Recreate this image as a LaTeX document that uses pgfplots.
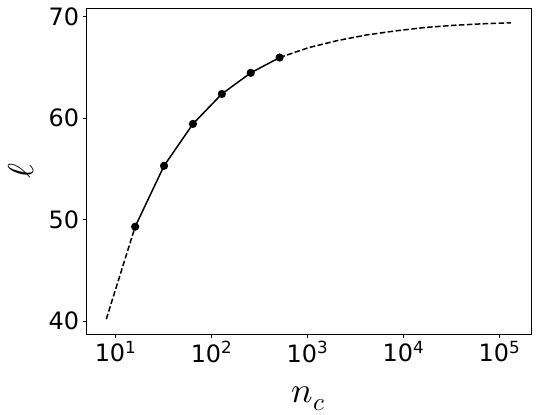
\documentclass[border=0pt]{standalone}
\usepackage{fontspec}
\usepackage{unicode-math}
\setmainfont{DejaVu Sans}
\setmathfont{Latin Modern Math}
\usepackage{pgfplots}
\pgfplotsset{compat=1.18}
\begin{document}
\begin{tikzpicture}[x=1bp,y=1bp]
\begin{axis}[
  name=ax,
  at={(0,0)}, anchor=south west,
  scale only axis, width=445bp, height=326bp,
  xmode=log, log basis x=10,
  xmin=4.92, xmax=2.13e5,
  ymin=38.74, ymax=70.86,
  xtick={10,100,1000,10000,100000},
  xticklabels={10\textsuperscript{1},10\textsuperscript{2},10\textsuperscript{3},10\textsuperscript{4},10\textsuperscript{5}},
  ytick={40,50,60,70},
  /pgf/number format/assume math mode=true,
  tick label style={font=\fontsize{24}{28}\selectfont, black},
  tick align=outside, tick pos=left,
  major tick length=3.5bp, minor tick length=2bp,
  every tick/.style={black, line width=0.8bp},
  minor tick style={line width=0.6bp},
  axis line style={line width=0.8bp},
  xlabel={$n_c$}, ylabel={$\ell$},
  xlabel style={font=\fontsize{36}{40}\selectfont, at={(axis description cs:0.5,0)}, anchor=base, yshift=-68bp},
  ylabel style={font=\fontsize{36}{40}\selectfont, at={(axis description cs:-0.1191,0.5)}, anchor=base},
  clip=false,
]
\addplot[black, line width=1.5bp, dash pattern=on 5.55bp off 2.4bp] coordinates {
  (8,40.2) (16,49.31)
};
\addplot[black, line width=1.5bp, dash pattern=on 5.55bp off 2.4bp] coordinates {
  (512,65.98) (1024,66.95) (2048,67.65) (4096,68.2) (8192,68.6) (16384,68.93) (32768,69.15) (65536,69.3) (131072,69.4)
};
\addplot[black, line width=1.5bp, mark=*, mark size=3.3bp, mark options={solid}] coordinates {
  (16,49.31) (32,55.31) (64,59.44) (128,62.39) (256,64.47) (512,65.98)
};
\end{axis}
\pgfresetboundingbox
\path (-86bp,-81bp) rectangle (453bp,334bp);
\end{tikzpicture}
\end{document}
